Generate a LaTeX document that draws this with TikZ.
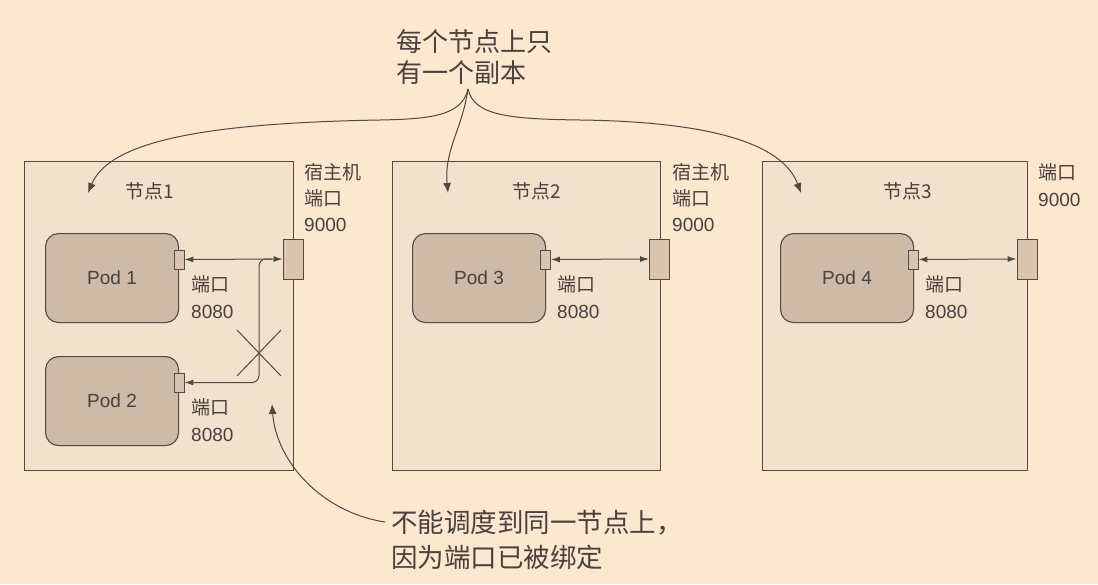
\documentclass[tikz,border=0pt]{standalone}
\usepackage{fontspec}
\setmainfont{Liberation Sans}
\newfontfamily\cjk{Noto Sans CJK SC}
\usetikzlibrary{arrows.meta}
\definecolor{bg}{HTML}{FCE7CF}
\definecolor{boxfill}{HTML}{F2E1CC}
\definecolor{podfill}{HTML}{CDBBA8}
\definecolor{portfill}{HTML}{D9C5AF}
\definecolor{ink}{HTML}{544842}
\definecolor{txt}{HTML}{4A403E}
\tikzset{
  x=1pt, y=-1pt,
  every node/.style={text=txt, inner sep=0pt},
  nodebox/.style={draw=ink, line width=1.1pt, fill=boxfill, anchor=north west,
    minimum height=309pt},
  pod/.style={draw=ink, line width=1.1pt, fill=podfill, rounded corners=13pt,
    anchor=north west, minimum width=133pt, minimum height=89pt,
    font=\fontsize{19}{22}\selectfont},
  podport/.style={draw=ink, line width=0.9pt, fill=portfill,
    minimum width=10pt, minimum height=19pt},
  hostport/.style={draw=ink, line width=0.9pt, fill=portfill,
    minimum width=20pt, minimum height=40pt},
  lbl/.style={align=left, anchor=west, font=\fontsize{19}{27}\selectfont},
  title/.style={font=\cjk\fontsize{19}{22}\selectfont},
  note/.style={align=left, anchor=west, font=\cjk\fontsize{26}{31}\selectfont},
  link/.style={draw=ink, line width=1pt, {Latex[length=9pt,width=6pt]}-{Latex[length=9pt,width=6pt]}},
  callout/.style={draw=ink, line width=1pt, -{Latex[length=10pt,width=8pt]}},
}
\begin{document}
\begin{tikzpicture}
\fill[bg] (0,0) rectangle (1098,584);
\path[use as bounding box] (0,0) rectangle (1098,584);

% worker nodes
\node[nodebox, minimum width=269pt] (n1) at (24,161) {};
\node[nodebox, minimum width=268pt] (n2) at (392,161) {};
\node[nodebox, minimum width=265pt] (n3) at (762,161) {};
\node[title] (t1) at (150,191) {节点1};
\node[title] (t2) at (537,191) {节点2};
\node[title] (t3) at (908,191) {节点3};

% pods
\node[pod] (p1) at (45,233) {Pod 1};
\node[pod] (p2) at (45,356) {Pod 2};
\node[pod] (p3) at (412,233) {Pod 3};
\node[pod] (p4) at (780,233) {Pod 4};

% container ports
\node[podport] (pp1) at (179,259.5) {};
\node[podport] (pp2) at (179,382.5) {};
\node[podport] (pp3) at (545.5,259.5) {};
\node[podport] (pp4) at (913,259.5) {};

% host ports
\node[hostport] (h1) at (293,259) {};
\node[hostport] (h2) at (659.5,259) {};
\node[hostport] (h3) at (1027,259) {};

% port mappings
\draw[link] (pp1.east) -- (h1.west);
\draw[link] (pp3.east) -- (h2.west);
\draw[link] (pp4.east) -- (h3.west);
\coordinate (j1) at (272,259);
\draw[draw=ink, line width=1pt, rounded corners=7pt, -{Latex[length=9pt,width=6pt]}]
  (j1) -- (259,259) -- (259,382.5) -- (pp2.east);
% blocked mapping
\coordinate (xa) at (237,330);
\coordinate (xb) at (281,376);
\coordinate (xc) at (237,376);
\coordinate (xd) at (281,330);
\draw[ink, line width=1pt] (xa) -- (xb) (xc) -- (xd);

% port labels
\node[lbl] (l1) at (191,297) {{\cjk 端口}\\8080};
\node[lbl] (l2) at (191,420) {{\cjk 端口}\\8080};
\node[lbl] (l3) at (557,297) {{\cjk 端口}\\8080};
\node[lbl] (l4) at (925,297) {{\cjk 端口}\\8080};
\node[lbl, font=\fontsize{19}{26}\selectfont] (hl1) at (304,198) {{\cjk 宿主机}\\{\cjk 端口}\\9000};
\node[lbl, font=\fontsize{19}{26}\selectfont] (hl2) at (672,198) {{\cjk 宿主机}\\{\cjk 端口}\\9000};
\node[lbl, font=\fontsize{19}{27}\selectfont] (hl3) at (1038,185) {{\cjk 端口}\\9000};

% annotations
\node[note] (top) at (396,57) {每个节点上只\\有一个副本};
\node[note, font=\cjk\fontsize{26.5}{35}\selectfont] (bot) at (391,540) {不能调度到同一节点上，\\因为端口已被绑定};

\coordinate (fork) at (468,89);
\coordinate (a1) at (88,193);
\coordinate (a2) at (448,193);
\coordinate (a3) at (801,193);
\coordinate (ax) at (272,404);
\draw[callout] (fork) .. controls (462,116) and (430,119) .. (380,120)
  .. controls (210,123) and (110,140) .. (a1);
\draw[callout] (fork) .. controls (474,116) and (510,119) .. (580,120)
  .. controls (730,122) and (785,150) .. (a3);
\draw[callout] (fork) .. controls (462,130) and (444,150) .. (a2);
\draw[callout] (bot.west |- 0,522) ++(-6,0) .. controls (320,512) and (276,460) .. (ax);
\end{tikzpicture}
\end{document}
